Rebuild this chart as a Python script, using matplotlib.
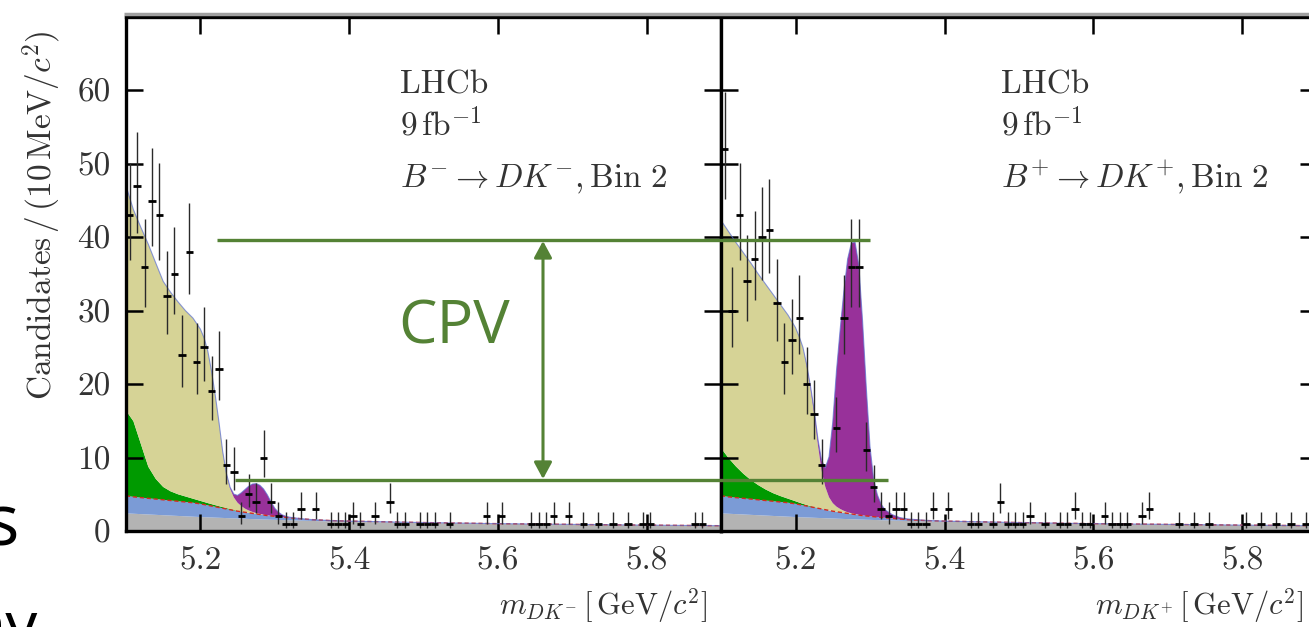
import numpy as np
import matplotlib
matplotlib.use("Agg")
import matplotlib.pyplot as plt

# ---- data ----
# fit components, sampled on a common mass grid [GeV/c^2]
fit_mass = [5.100, 5.110, 5.120, 5.130, 5.140, 5.150, 5.160, 5.170, 5.180, 5.190,
            5.200, 5.205, 5.210, 5.215, 5.220, 5.225, 5.230, 5.235, 5.240, 5.245,
            5.250, 5.255, 5.260, 5.265, 5.270, 5.275, 5.280, 5.285, 5.290, 5.295,
            5.300, 5.305, 5.310, 5.315, 5.320, 5.330, 5.340, 5.350, 5.375, 5.400,
            5.500, 5.600, 5.700, 5.800, 5.900]

comb = [2.4, 2.35, 2.3, 2.25, 2.2, 2.15, 2.1, 2.05, 2.0, 1.95,
        1.9, 1.88, 1.86, 1.84, 1.82, 1.8, 1.78, 1.76, 1.74, 1.72,
        1.7, 1.68, 1.66, 1.64, 1.62, 1.6, 1.58, 1.56, 1.55, 1.53,
        1.52, 1.5, 1.49, 1.47, 1.46, 1.43, 1.4, 1.37, 1.3, 1.25,
        1.1, 0.98, 0.88, 0.8, 0.72]

misid = [2.4, 2.3, 2.25, 2.2, 2.15, 2.1, 2.05, 2.0, 1.95, 1.9,
         1.8, 1.72, 1.64, 1.56, 1.48, 1.4, 1.32, 1.24, 1.16, 1.08,
         1.0, 0.94, 0.89, 0.83, 0.78, 0.72, 0.67, 0.61, 0.55, 0.52,
         0.48, 0.45, 0.41, 0.38, 0.34, 0.29, 0.23, 0.18, 0.12, 0.1,
         0.05, 0.02, 0.02, 0.0, 0.0]

green_m = [11.6, 10.3, 7.3, 4.3, 2.75, 1.75, 1.25, 0.95, 0.75, 0.55,
           0.4, 0.35, 0.3, 0.26, 0.22, 0.18, 0.15, 0.12, 0.1, 0.07,
           0.05, 0.03, 0.02] + [0.0] * 22
green_p = [6.5, 5.3, 4.25, 3.35, 2.6, 2.0, 1.5, 1.1, 0.8, 0.55,
           0.35, 0.27, 0.2, 0.14, 0.09, 0.06, 0.04, 0.02, 0.01] + [0.0] * 26

partreco_m = [30.6, 28.8, 29.5, 30.3, 29.4, 28.0, 27.1, 26.2, 25.3, 24.6,
              23.4, 22.35, 20.7, 18.1, 14.95, 11.4, 7.5, 4.6, 2.75, 1.7,
              1.1, 0.75, 0.48, 0.33, 0.2, 0.13, 0.08, 0.05, 0.03, 0.02] + [0.0] * 15
partreco_p = [31.0, 30.85, 30.5, 30.1, 29.55, 28.75, 27.95, 27.05, 26.05, 25.0,
              23.65, 22.6, 21.3, 18.95, 16.1, 12.75, 8.65, 5.2, 3.1, 1.8,
              1.1, 0.7, 0.45, 0.28, 0.15, 0.1, 0.06, 0.04, 0.02, 0.01] + [0.0] * 15

signal_m = [0.0] * 14 + [0.02, 0.04, 0.07, 0.12, 0.2, 0.45,
                         1.0, 1.8, 2.6, 3.3, 3.8, 4.0, 3.9, 3.5, 2.8, 1.9,
                         1.1, 0.6, 0.3, 0.15, 0.08, 0.03, 0.01] + [0.0] * 8
signal_p = [0.0] * 13 + [0.15, 0.3, 0.5, 0.8, 1.4, 2.6, 5.5,
                         11.0, 18.5, 24.5, 30.0, 34.5, 36.8, 37.0, 34.0, 26.5, 17.5,
                         9.5, 5.0, 3.0, 1.8, 1.1, 0.5, 0.2, 0.1, 0.03] + [0.0] * 6

# data (non-empty 10 MeV bins)
bins_m = [5.105, 5.115, 5.125, 5.135, 5.145, 5.155, 5.165, 5.175, 5.185, 5.195,
          5.205, 5.215, 5.225, 5.235, 5.245, 5.255, 5.265, 5.275, 5.285, 5.295,
          5.305, 5.315, 5.325, 5.335, 5.355, 5.375, 5.385, 5.395, 5.405, 5.415,
          5.435, 5.455, 5.465, 5.475, 5.495, 5.505, 5.515, 5.535, 5.585, 5.605,
          5.645, 5.655, 5.665, 5.675, 5.695, 5.715, 5.735, 5.755, 5.775, 5.795,
          5.805, 5.865, 5.875]
counts_m = [43, 47, 36, 45, 43, 32, 35, 24, 38, 23,
            25, 19, 22, 9, 8, 2, 5, 4, 10, 4,
            2, 1, 1, 3, 3, 1, 1, 1, 2, 1,
            2, 4, 1, 1, 1, 1, 1, 1, 2, 2,
            1, 1, 1, 2, 2, 1, 1, 1, 1, 1,
            1, 1, 1]

bins_p = [5.105, 5.115, 5.125, 5.135, 5.145, 5.155, 5.165, 5.175, 5.185, 5.195,
          5.205, 5.215, 5.225, 5.235, 5.255, 5.265, 5.275, 5.285, 5.295, 5.305,
          5.315, 5.325, 5.335, 5.345, 5.355, 5.365, 5.375, 5.385, 5.405, 5.435,
          5.445, 5.465, 5.475, 5.485, 5.495, 5.505, 5.515, 5.535, 5.555, 5.565,
          5.575, 5.585, 5.595, 5.615, 5.625, 5.635, 5.645, 5.665, 5.675, 5.715,
          5.735, 5.755, 5.805, 5.825, 5.845, 5.865, 5.885]
counts_p = [52, 30, 43, 34, 37, 40, 41, 31, 23, 26,
            29, 20, 16, 9, 14, 29, 36, 36, 11, 6,
            3, 2, 3, 3, 1, 1, 1, 3, 3, 1,
            1, 1, 4, 1, 1, 1, 2, 1, 1, 1,
            3, 1, 1, 2, 1, 1, 1, 2, 3, 1,
            1, 1, 1, 1, 1, 1, 1]

xticks = [5.2, 5.4, 5.6, 5.8]
yticks = [0, 10, 20, 30, 40, 50, 60]
decay_labels = [r"$B^{-}\to DK^{-}, \mathrm{Bin\ 2}$", r"$B^{+}\to DK^{+}, \mathrm{Bin\ 2}$"]
mass_labels = [r"$m_{DK^{-}}\,[\,\mathrm{GeV}/c^{2}]$", r"$m_{DK^{+}}\,[\,\mathrm{GeV}/c^{2}]$"]

colors = ["#b3b3b3", "#7b9bd6", "#009a00", "#d6d396", "#98319a"]
green_ann = "#548235"
txt = "#333333"

plt.rcParams["mathtext.fontset"] = "cm"
plt.rcParams["font.family"] = "cmr10"
plt.rcParams["axes.unicode_minus"] = False

W, H = 1309, 627
fig = plt.figure(figsize=(W / 100, H / 100), dpi=100)

ax_m = fig.add_axes([126 / W, 96 / H, 595 / W, 514 / H])
ax_p = fig.add_axes([721 / W, 96 / H, 596 / W, 514 / H])

panels = [
    (ax_m, green_m, partreco_m, signal_m, bins_m, counts_m, 0.461),
    (ax_p, green_p, partreco_p, signal_p, bins_p, counts_p, 0.470),
]

for i, (ax, grn, pr, sig, bins, cnt, tx) in enumerate(panels):
    ax.stackplot(fit_mass, comb, misid, grn, pr, sig, colors=colors, lw=0, zorder=1)
    base = np.array(comb) + np.array(misid)
    ax.plot(fit_mass, base, color="#d42a1e", lw=1.0, ls=(0, (3, 2)), zorder=2)
    total = base + np.array(grn) + np.array(pr) + np.array(sig)
    ax.plot(fit_mass, total, color="#5b6fd0", lw=0.8, alpha=0.7, zorder=2)

    n = np.array(cnt, dtype=float)
    lo = np.sqrt(n + 0.25) - 0.5
    hi = np.sqrt(n + 0.25) + 0.5
    ax.errorbar(bins, cnt, yerr=[lo, hi], fmt="none", ecolor="#2a2a2a",
                elinewidth=1.0, capsize=0, zorder=3)
    ax.errorbar(bins, cnt, xerr=0.005, fmt="none", ecolor="black",
                elinewidth=2.0, capsize=0, zorder=3)

    ax.set_xlim(5.1, 5.9)
    ax.set_ylim(0, 70)
    ax.set_xticks(xticks)
    ax.set_xticklabels([f"{t:.1f}" for t in xticks])
    ax.set_yticks(yticks)
    ax.set_yticklabels([str(t) for t in yticks])
    ax.tick_params(direction="in", length=12, width=1.8, top=True, right=True,
                   labelsize=24, pad=11, labelcolor=txt)
    if i == 1:
        ax.tick_params(labelleft=False)
    for s in ax.spines.values():
        s.set_linewidth(2.4)

    ax.text(tx, 0.852, "LHCb", transform=ax.transAxes, fontsize=24,
            va="baseline", color=txt)
    ax.text(tx, 0.770, r"$9\,\mathrm{fb}^{-1}$", transform=ax.transAxes,
            fontsize=24, va="baseline", color=txt)
    ax.text(tx, 0.669, decay_labels[i], transform=ax.transAxes, fontsize=24,
            va="baseline", color=txt)
    ax.text(1 - 14 / 595, -0.163, mass_labels[i], transform=ax.transAxes,
            fontsize=22, ha="right", va="baseline", color=txt)

fig.text(42 / W, 1 - 215 / H, r"$\mathrm{Candidates}\,/\,(10\,\mathrm{MeV}/c^{2})$",
         rotation=90, ha="center", va="center", fontsize=24, color=txt)

# slide annotation overlay (pixel coordinates)
ov = fig.add_axes([0, 0, 1, 1])
ov.set_xlim(0, W)
ov.set_ylim(H, 0)
ov.axis("off")
ov.patch.set_alpha(0)

# greyish strip above the frame, as in the cropped screenshot
ov.plot([124, W], [14, 14], color="#a0a0a0", lw=2.5, solid_capstyle="butt")

ov.plot([217, 870], [240, 240], color=green_ann, lw=2.4, solid_capstyle="butt")
ov.plot([235, 888], [480, 480], color=green_ann, lw=2.4, solid_capstyle="butt")
ov.annotate("", xy=(543, 241), xytext=(543, 479),
            arrowprops=dict(arrowstyle="<|-|>,head_length=0.5,head_width=0.27",
                            mutation_scale=20, color=green_ann, lw=2.2,
                            shrinkA=0, shrinkB=0))
ov.text(398, 343, "CPV", family=["Open Sans", "DejaVu Sans"], fontsize=44,
        color=green_ann, ha="left", va="baseline")

# fragments of the slide's body text at the left edge
ov.text(19, 545, "s", family=["Open Sans", "DejaVu Sans"], fontsize=52,
        color="black", ha="right", va="baseline")
ov.text(38, 647, "ny", family=["Open Sans", "DejaVu Sans"], fontsize=46,
        color="black", ha="right", va="baseline")

fig.savefig("out.png", dpi=100)
